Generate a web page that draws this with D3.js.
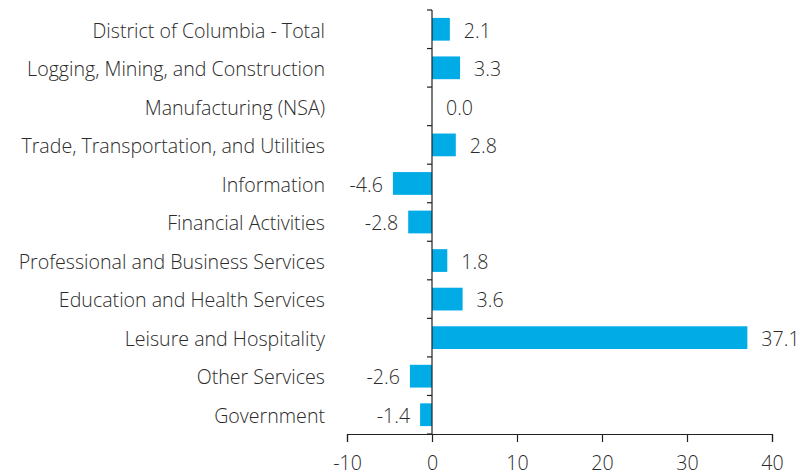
<!DOCTYPE html>
<html lang="en">
  <head>
    <meta charset="utf-8">
    <title>Employment change by sector</title>
    <style type="text/css">
body { margin: 0; background: #fff; }
text { font-family: "Open Sans", "Noto Sans", sans-serif; font-weight: 300; fill: #2b2b2b; }
    </style>
  </head>
  <body>
    <div id="chart"></div>

    <script src="https://cdn.jsdelivr.net/npm/d3@7"></script>
    <script>
      var categories = [
        "District of Columbia - Total",
        "Logging, Mining, and Construction",
        "Manufacturing (NSA)",
        "Trade, Transportation, and Utilities",
        "Information",
        "Financial Activities",
        "Professional and Business Services",
        "Education and Health Services",
        "Leisure and Hospitality",
        "Other Services",
        "Government"
      ];
      var values = [2.1, 3.3, 0.0, 2.8, -4.6, -2.8, 1.8, 3.6, 37.1, -2.6, -1.4];
      var xTicks = [-10, 0, 10, 20, 30, 40];

      var width = 797, height = 476;
      var margin = {top: 10, right: 25, bottom: 42, left: 347};
      var fontSize = "19.6px";

      var svg = d3.select("#chart").append("svg")
          .attr("width", width)
          .attr("height", height);

      var x = d3.scaleLinear()
          .domain([-10, 40])
          .range([margin.left, width - margin.right]);

      var y = d3.scaleBand()
          .domain(categories)
          .range([margin.top, height - margin.bottom])
          .paddingInner(0.41)
          .paddingOuter(0.205);

      var data = categories.map(function(c, i) { return {name: c, value: values[i]}; });

      // bars
      svg.selectAll("rect.bar")
        .data(data)
        .enter().append("rect")
          .attr("class", "bar")
          .attr("x", function(d) { return x(Math.min(0, d.value)); })
          .attr("y", function(d) { return y(d.name); })
          .attr("width", function(d) { return Math.abs(x(d.value) - x(0)); })
          .attr("height", y.bandwidth())
          .attr("fill", "#00abe6");

      // value labels (the 37.1 runs to the right edge, as in the original)
      svg.selectAll("text.val")
        .data(data)
        .enter().append("text")
          .attr("class", "val")
          .attr("x", function(d) { return d.value < 0 ? x(d.value) - 10 : x(d.value) + 14; })
          .attr("y", function(d) { return y(d.name) + y.bandwidth() / 2; })
          .attr("dy", "0.42em")
          .attr("text-anchor", function(d) { return d.value < 0 ? "end" : "start"; })
          .style("font-size", fontSize)
          .text(function(d) { return d.value.toFixed(1); });

      // category labels
      svg.selectAll("text.cat")
        .data(data)
        .enter().append("text")
          .attr("class", "cat")
          .attr("x", 325)
          .attr("y", function(d) { return y(d.name) + y.bandwidth() / 2; })
          .attr("dy", "0.42em")
          .attr("text-anchor", "end")
          .style("font-size", fontSize)
          .text(function(d) { return d.name; });

      // vertical axis at zero, with ticks between bands
      var step = y.step();
      var bounds = d3.range(categories.length + 1).map(function(i) { return margin.top + i * step; });
      var yAxis = svg.append("g");
      yAxis.append("line")
          .attr("x1", x(0)).attr("x2", x(0))
          .attr("y1", margin.top).attr("y2", height - margin.bottom)
          .attr("stroke", "#222").attr("stroke-width", 1.2);
      yAxis.selectAll("line.tk")
        .data(bounds)
        .enter().append("line")
          .attr("class", "tk")
          .attr("x1", x(0) - 5).attr("x2", x(0))
          .attr("y1", function(d) { return d; }).attr("y2", function(d) { return d; })
          .attr("stroke", "#222").attr("stroke-width", 1.2);

      // bottom axis
      var xAxis = svg.append("g")
          .attr("transform", "translate(0," + (height - margin.bottom) + ")")
          .call(d3.axisBottom(x).tickValues(xTicks).tickSize(8).tickPadding(14)
            .tickFormat(function(d) { return String(d); }));
      xAxis.select(".domain").attr("stroke", "#222").attr("stroke-width", 1.2);
      xAxis.selectAll(".tick line").attr("stroke", "#222").attr("stroke-width", 1.2);
      xAxis.selectAll("text")
          .style("font-size", fontSize)
          .style("font-family", "'Open Sans', 'Noto Sans', sans-serif")
          .style("font-weight", 300)
          .attr("fill", "#2b2b2b");
    </script>
  </body>
</html>
